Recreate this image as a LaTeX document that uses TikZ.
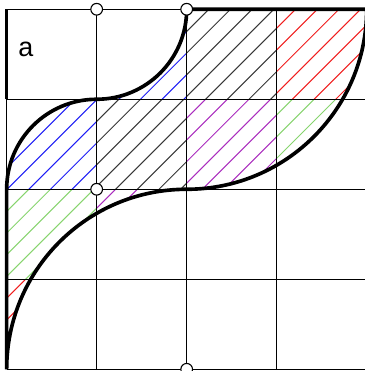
\documentclass[tikz,border=0pt]{standalone}
\usepackage{fontspec}
\setmainfont{Liberation Sans}
\usepackage{tikz}
\usetikzlibrary{positioning,calc}
\definecolor{hatchred}{RGB}{240,30,30}
\definecolor{hatchgreen}{RGB}{135,212,110}
\definecolor{hatchblue}{RGB}{30,30,245}
\definecolor{hatchblack}{RGB}{55,55,55}
\definecolor{hatchpurple}{RGB}{170,45,190}
\newcommand{\hatchcell}[3]{%
  \begin{scope}
    \clip (#2,#3) rectangle ++(1,1);
    \foreach \k in {-14,...,6}
      \draw[hatchline,#1] ({-0.067+0.241*\k-1},-1) -- ++(7,7);
  \end{scope}}
\begin{document}
\begin{tikzpicture}[x=1cm,y=1cm,
  gridline/.style={line width=0.35pt},
  hatchline/.style={line width=0.32pt},
  boundline/.style={line width=1.15pt},
  marker/.style={draw,circle,fill=white,line width=0.35pt,minimum size=0.13cm,inner sep=0pt}]
\useasboundingbox (-0.074,-0.019) rectangle (3.981,4.103);

\begin{scope}
\clip (0,0) arc[start angle=180,end angle=90,radius=2] arc[start angle=270,end angle=360,radius=2] -- (2,4) arc[start angle=0,end angle=-90,radius=1] arc[start angle=90,end angle=180,radius=1] -- cycle;
\hatchcell{hatchred}{0}{0}
\hatchcell{hatchred}{3}{3}
\hatchcell{hatchgreen}{0}{1}
\hatchcell{hatchgreen}{3}{2}
\hatchcell{hatchblue}{0}{2}
\hatchcell{hatchblue}{1}{3}
\hatchcell{hatchblack}{1}{2}
\hatchcell{hatchblack}{2}{3}
\hatchcell{hatchpurple}{1}{1}
\hatchcell{hatchpurple}{2}{2}
\end{scope}

\draw[gridline] (0,0) grid (4,4);

\draw[boundline] (0,0) arc[start angle=180,end angle=90,radius=2] arc[start angle=270,end angle=360,radius=2] -- (2,4) arc[start angle=0,end angle=-90,radius=1] arc[start angle=90,end angle=180,radius=1] -- cycle;
\draw[boundline] (0,3) -- (0,4);

\node[marker] (m1) at (1,4) {};
\node[marker] (m2) at (2,4) {};
\node[marker] (m3) at (1,2) {};
\node[marker] (m4) at (2,0) {};

\node[inner sep=0pt,font=\fontsize{8.5}{10}\selectfont] (lbl) at (0.214,3.557) {a};
\end{tikzpicture}
\end{document}
